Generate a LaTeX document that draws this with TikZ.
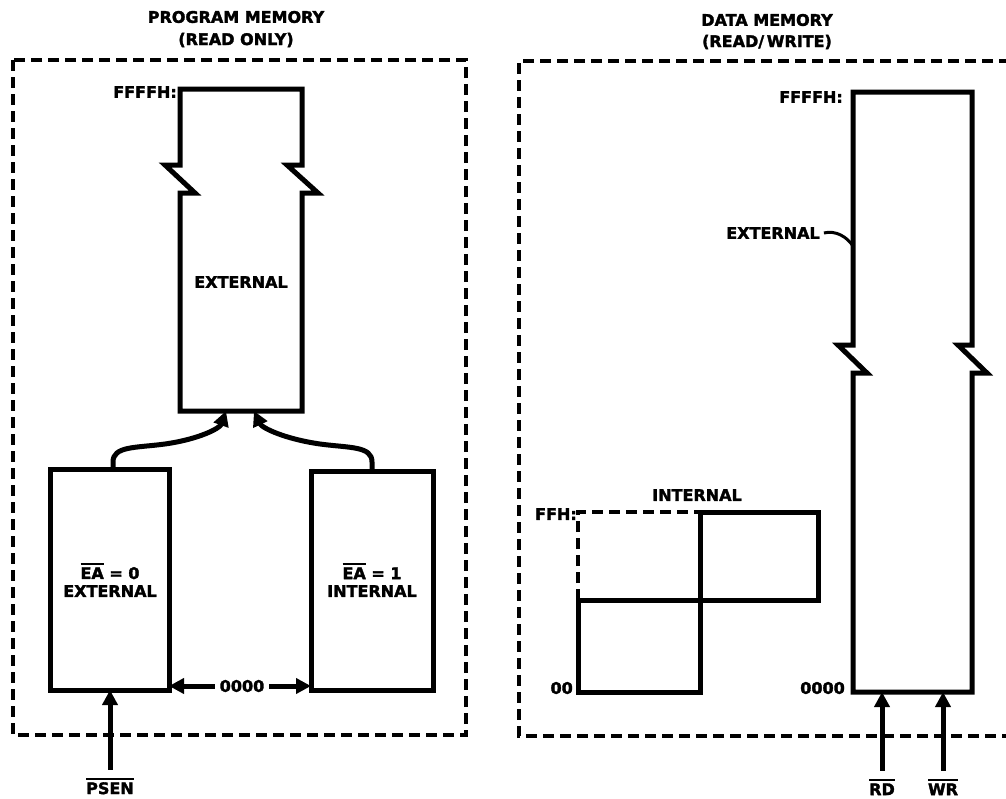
\documentclass[tikz,border=0pt]{standalone}
\usepackage{fontspec}
\setmainfont[BoldFeatures={FakeBold=2}]{DejaVu Sans}
\usetikzlibrary{arrows.meta}
\newcommand\myover[1]{\leavevmode\vbox{\hrule height 2.5pt\kern 2pt\hbox{#1}}}
\begin{document}
\begin{tikzpicture}[x=1pt,y=-1pt,
  lbl/.style={font=\fontsize{16}{18}\selectfont\bfseries, inner sep=0pt, align=center},
  memline/.style={line width=5pt, line join=miter},
  membox/.style={draw, memline, anchor=north west, inner sep=0pt, outer sep=0pt},
  frame/.style={line width=4.5pt, dash pattern=on 11pt off 6pt},
  arr/.style={line width=5pt, -{Triangle[length=15pt,width=15pt]}},
]
\useasboundingbox (0,0) rectangle (1006,798);

% ---------- frames ----------
\draw[frame] (13,60) rectangle (466,735);
\draw[frame] (1010,61) -- (519,61) -- (519,736) -- (1010,736);

% ---------- titles ----------
\node[lbl] (ptitle) at (236,17) {PROGRAM MEMORY};
\node[lbl] (ptitle2) at (236,40) {(READ ONLY)};
\node[lbl] (dtitle) at (767,20) {DATA MEMORY};
\node[lbl] (dtitle2) at (767,42) {(READ/\,WRITE)};

% ---------- program memory ----------
\draw[memline] (180,411) -- (180,193) -- (195,193) -- (165,165) -- (180,165) -- (180,89)
  -- (302,89) -- (302,165) -- (287,165) -- (318,193) -- (302,193) -- (302,411) -- cycle;
\coordinate (ltip) at (226,411);
\coordinate (rtip) at (254,411);
\node[lbl, anchor=east] (pffff) at (177,92) {FFFFH:};
\node[lbl] (pext) at (241,282) {EXTERNAL};

\node[membox, minimum width=119pt, minimum height=221pt] (ea0) at (50,469) {};
\node[membox, minimum width=122pt, minimum height=219pt] (ea1) at (311,471) {};
\node[lbl] (ea0txt) at (110,571) {\myover{EA} = 0};
\node[lbl] (ea0txt2) at (110,591) {EXTERNAL};
\node[lbl] (ea1txt) at (372,571) {\myover{EA} = 1};
\node[lbl] (ea1txt2) at (372,591) {INTERNAL};

\coordinate (ltail) at (113,469);
\coordinate (rtail) at (372,471);
\draw[arr] (ltail) -- (113,462) .. controls (113,446) and (135,448) .. (165,444)
  .. controls (200,439) and (220,428) .. (ltip);
\draw[arr] (rtail) -- (372,462) .. controls (372,446) and (350,448) .. (320,444)
  .. controls (285,439) and (262,428) .. (rtip);

\node[lbl, inner sep=5pt] (pzero) at (242,686) {0000};
\draw[arr] (pzero.west) -- (pzero.west -| ea0.east);
\draw[arr] (pzero.east) -- (pzero.east -| ea1.west);

\node[lbl] (psen) at (110,786) {\myover{PSEN}};
\draw[arr] ([yshift=8pt]psen.north) -- (psen.north |- ea0.south);

% ---------- data memory ----------
\draw[memline] (853,692) -- (853,373) -- (867,373) -- (838,345) -- (853,345) -- (853,92)
  -- (972,92) -- (972,345) -- (958,345) -- (987,373) -- (972,373) -- (972,692) -- cycle;
\coordinate (rdtip) at (882,692);
\coordinate (wrtip) at (943,692);
\coordinate (dlead) at (853,246);
\node[lbl, anchor=east] (dffff) at (843,97) {FFFFH:};
\node[lbl] (dext) at (773,233) {EXTERNAL};
\draw[line width=3pt] ([xshift=4pt]dext.east) .. controls +(12,-3) and +(-6,-9) .. (dlead);

\node[membox, minimum width=122pt, minimum height=92pt] (ilow) at (578,600) {};
\node[membox, minimum width=118pt, minimum height=88pt] (iup) at (700,512) {};
\draw[frame, line width=4pt] (ilow.north west) -- (ilow.north west |- iup.north) -- (iup.north west);
\node[lbl] (intl) at (697,495) {INTERNAL};
\node[lbl, anchor=east] (ffh) at (577,514) {FFH:};
\node[lbl, anchor=east] (dzz) at (573,688) {00};
\node[lbl, anchor=east] (dzero) at (845,688) {0000};

\node[lbl] (rd) at (882,787) {\myover{RD}};
\node[lbl] (wr) at (943,787) {\myover{WR}};
\draw[arr] ([yshift=8pt]rd.north) -- (rdtip);
\draw[arr] ([yshift=8pt]wr.north) -- (wrtip);
\end{tikzpicture}
\end{document}
